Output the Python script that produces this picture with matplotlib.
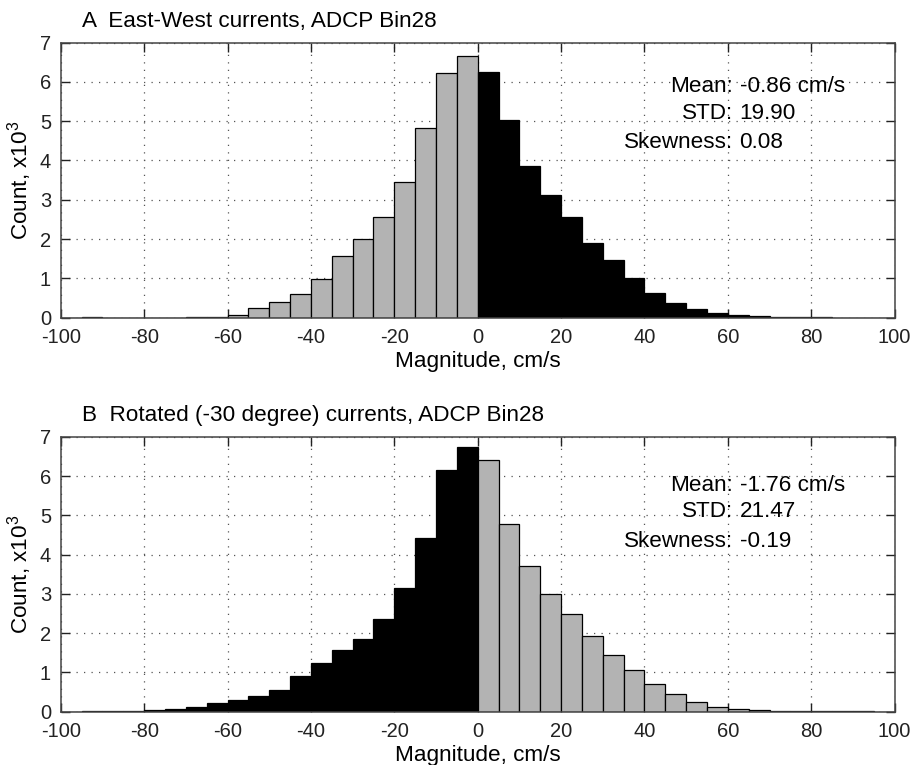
import numpy as np
import matplotlib.pyplot as plt

plt.rcParams['font.family'] = ['Liberation Sans', 'DejaVu Sans']
plt.rcParams['mathtext.default'] = 'regular'
plt.rcParams['axes.unicode_minus'] = False

# bin left edges, 5 cm/s bins from -100 to 100
bin_edges = np.arange(-100, 100, 5)
BIN_W = 5

# counts in thousands, panel A (east-west)
counts_ew = [0, 0.01, 0.003, 0.003, 0.003, 0.005, 0.008, 0.02, 0.08, 0.25,
             0.39, 0.60, 0.99, 1.57, 2.01, 2.57, 3.45, 4.83, 6.23, 6.65,
             6.24, 5.04, 3.87, 3.13, 2.55, 1.90, 1.48, 1.02, 0.62, 0.38,
             0.22, 0.11, 0.065, 0.04, 0.025, 0.015, 0.01, 0.005, 0, 0]
# panel B (rotated -30 deg)
counts_rot = [0, 0.005, 0.015, 0.025, 0.04, 0.08, 0.13, 0.21, 0.31, 0.41,
              0.55, 0.92, 1.25, 1.57, 1.85, 2.35, 3.14, 4.41, 6.16, 6.73,
              6.42, 4.78, 3.72, 3.00, 2.49, 1.92, 1.44, 1.05, 0.70, 0.45,
              0.24, 0.13, 0.065, 0.04, 0.03, 0.02, 0.01, 0.015, 0.005, 0]

titles = ['A  East-West currents, ADCP Bin28',
          'B  Rotated (-30 degree) currents, ADCP Bin28']
stats_names = ['Mean:', 'STD:', 'Skewness:']
stats_ew = ['-0.86 cm/s', '19.90', '0.08']
stats_rot = ['-1.76 cm/s', '21.47', '-0.19']

GRAY = '#b3b3b3'

fig = plt.figure(figsize=(9.12, 7.65), dpi=100)
axA = fig.add_axes([0.0666, 0.5847, 0.9144, 0.3597])
axB = fig.add_axes([0.0666, 0.0697, 0.9144, 0.3594])


def draw_panel(ax, counts, neg_color, pos_color, title, values, ys):
    edges = np.array(bin_edges)
    cnt = np.array(counts)
    neg = edges < 0
    ax.bar(edges[neg], cnt[neg], width=BIN_W, align='edge',
           color=neg_color, edgecolor='black', linewidth=0.9, zorder=3)
    ax.bar(edges[~neg], cnt[~neg], width=BIN_W, align='edge',
           color=pos_color, edgecolor='black', linewidth=0.9, zorder=3)
    ax.set_xlim(-100, 100)
    ax.set_ylim(0, 7)
    ax.set_xticks(np.arange(-100, 101, 20))
    ax.set_yticks(np.arange(0, 8, 1))
    ax.grid(True, linestyle=(0, (1, 5)), color='#555555', linewidth=0.9, zorder=1)
    ax.tick_params(direction='in', top=True, right=True, length=6.5,
                   width=1, labelsize=14.5, colors='#222222')
    ax.tick_params(axis='x', pad=7.5)
    ax.tick_params(axis='y', pad=7)
    for s in ax.spines.values():
        s.set_color('#444444')
        s.set_linewidth(1.1)
        s.set_zorder(4)
    ax.set_xlabel('Magnitude, cm/s', fontsize=16.2, labelpad=3)
    ax.set_ylabel('Count, x10$^{3}$', fontsize=16.2, labelpad=4)
    ax.text(0.0255, 1.056, title, transform=ax.transAxes, fontsize=16.2,
            ha='left', va='baseline')
    # stats text, aligned on the colon
    for name, val, y in zip(stats_names, values, ys):
        ax.text(61.2, y, name, fontsize=16.2, ha='right', va='center', zorder=5)
        ax.text(62.8, y, val, fontsize=16.2, ha='left', va='center', zorder=5)


draw_panel(axA, counts_ew, GRAY, 'black', titles[0], stats_ew, [5.87, 5.19, 4.46])
draw_panel(axB, counts_rot, 'black', GRAY, titles[1], stats_rot, [5.77, 5.09, 4.34])

fig.savefig('out.png', dpi=100)
